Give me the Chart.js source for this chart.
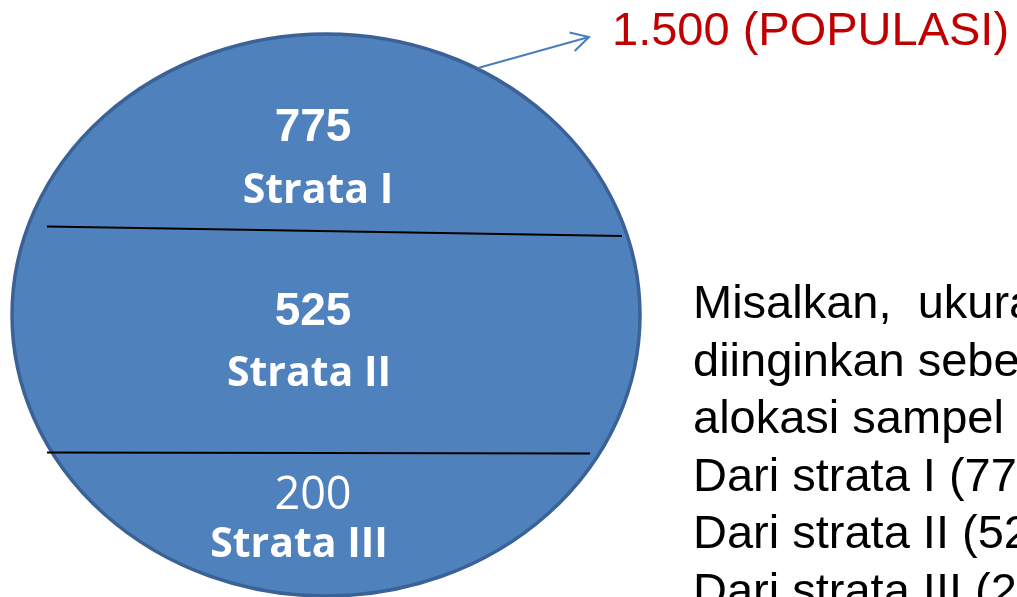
<!DOCTYPE html>
<html>
<head>
<meta charset="utf-8">
<script src="https://cdn.jsdelivr.net/npm/chart.js@4.4.1/dist/chart.umd.min.js"></script>
<style>
  html, body { margin: 0; padding: 0; background: #ffffff; overflow: hidden; }
  #wrap { width: 1017px; height: 597px; position: relative; }
</style>
</head>
<body>
<div id="wrap"><canvas id="c" width="1017" height="597"></canvas></div>
<script>
// ---- data ----
const strataNames = ['Strata I', 'Strata II', 'Strata III'];
const strataValues = [775, 525, 200];
const populationTotal = '1.500';
const populationLabel = '(POPULASI)';
const descriptionLines = [
  'Misalkan,  ukuran sampel yang',
  'diinginkan sebesar 150, maka',
  'alokasi sampel sebagai berikut:',
  'Dari strata I (775/1.500) x 150',
  'Dari strata II (525/1.500) x 150',
  'Dari strata III (200/1.500) x 150'
];

// ---- layout (pixel space expressed through the chart's own scales) ----
const layout = {
  ellipse: { cx: 326, cy: 315, rx: 314, ry: 281 },
  dividers: [ [[47, 226.5], [622, 236]], [[47, 452.5], [590, 453.5]] ],
  valuePos: [[313, 141], [313, 325], [313, 509]],
  namePos: [[318, 203], [309, 386], [299, 557]],
  valueBold: [true, true, false],
  arrow: { from: [478, 68], to: [589, 37] },
  popPos: [612, 45],
  descX: 693, descY0: 318, descStep: 57.5
};

const diagramPlugin = {
  id: 'strataDiagram',
  afterDraw(chart) {
    const ctx = chart.ctx;
    const xs = chart.scales.x, ys = chart.scales.y;
    const X = v => xs.getPixelForValue(v);
    const Y = v => ys.getPixelForValue(v);
    ctx.save();

    // ellipse (population)
    const e = layout.ellipse;
    ctx.beginPath();
    ctx.ellipse(X(e.cx), Y(e.cy), X(e.cx + e.rx) - X(e.cx), Y(e.cy + e.ry) - Y(e.cy), 0, 0, Math.PI * 2);
    ctx.fillStyle = '#4F81BD';
    ctx.fill();
    ctx.lineWidth = 3.5;
    ctx.strokeStyle = '#3A6296';
    ctx.stroke();

    // strata dividers
    ctx.strokeStyle = '#000000';
    ctx.lineWidth = 2.2;
    layout.dividers.forEach(d => {
      ctx.beginPath();
      ctx.moveTo(X(d[0][0]), Y(d[0][1]));
      ctx.lineTo(X(d[1][0]), Y(d[1][1]));
      ctx.stroke();
    });

    // strata texts
    ctx.fillStyle = '#ffffff';
    ctx.textAlign = 'center';
    ctx.textBaseline = 'alphabetic';
    strataValues.forEach((v, i) => {
      ctx.font = layout.valueBold[i]
        ? 'bold 46px "Liberation Sans", Arial, sans-serif'
        : '45px "Open Sans", sans-serif';
      ctx.fillText(String(v), X(layout.valuePos[i][0]), Y(layout.valuePos[i][1]));
      ctx.font = 'bold 41px "Open Sans", sans-serif';
      ctx.fillText(strataNames[i], X(layout.namePos[i][0]), Y(layout.namePos[i][1]));
    });

    // arrow
    const a = layout.arrow;
    const fx = X(a.from[0]), fy = Y(a.from[1]), tx = X(a.to[0]), ty = Y(a.to[1]);
    ctx.strokeStyle = '#4A7EBB';
    ctx.lineWidth = 2;
    ctx.beginPath();
    ctx.moveTo(fx, fy); ctx.lineTo(tx, ty); ctx.stroke();
    const ang = Math.atan2(ty - fy, tx - fx);
    const hl = 20, ha = 0.5;
    ctx.beginPath();
    ctx.moveTo(tx - hl * Math.cos(ang - ha), ty - hl * Math.sin(ang - ha));
    ctx.lineTo(tx, ty);
    ctx.lineTo(tx - hl * Math.cos(ang + ha), ty - hl * Math.sin(ang + ha));
    ctx.stroke();

    // population label
    ctx.textAlign = 'left';
    ctx.fillStyle = '#C00000';
    ctx.font = '47px "Liberation Sans", Arial, sans-serif';
    ctx.fillText(populationTotal + ' ' + populationLabel, X(layout.popPos[0]), Y(layout.popPos[1]));

    // description text
    ctx.fillStyle = '#000000';
    ctx.font = '47px "Liberation Sans", Arial, sans-serif';
    descriptionLines.forEach((t, i) => {
      ctx.fillText(t, X(layout.descX), Y(layout.descY0 + i * layout.descStep));
    });

    ctx.restore();
  }
};

new Chart(document.getElementById('c'), {
  type: 'scatter',
  data: { datasets: [{ data: [], pointRadius: 0 }] },
  options: {
    responsive: false,
    animation: false,
    events: [],
    layout: { padding: 0 },
    plugins: { legend: { display: false }, tooltip: { enabled: false }, title: { display: false } },
    scales: {
      x: { type: 'linear', min: 0, max: 1017, display: false },
      y: { type: 'linear', min: 0, max: 597, reverse: true, display: false }
    }
  },
  plugins: [diagramPlugin]
});
</script>
</body>
</html>
